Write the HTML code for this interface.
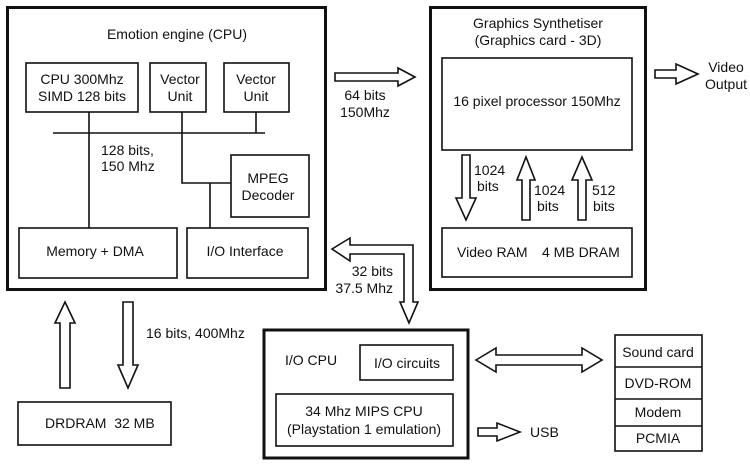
<!DOCTYPE html>
<html><head><meta charset="utf-8"><style>
html,body{margin:0;padding:0;background:#fff;}
svg{display:block;}
text{font-family:"Liberation Sans",sans-serif;font-size:14px;fill:#111;}
</style></head><body>
<svg width="750" height="465" viewBox="0 0 750 465" xmlns="http://www.w3.org/2000/svg">
<g fill="none" stroke="#111">
<rect x="7.5" y="7.5" width="318" height="282" stroke-width="3"/>
<g stroke-width="1.6">
<rect x="26" y="63" width="112" height="49"/>
<rect x="150" y="63" width="56" height="49"/>
<rect x="224" y="63" width="65" height="49"/>
<rect x="231" y="155" width="78" height="62"/>
<rect x="19" y="228" width="158" height="50"/>
<rect x="187" y="228" width="121" height="50"/>
<path d="M53 133H265M89 112V228M182 112V183H231M210 183V228M256 112V133"/>
</g>
<rect x="430.5" y="7.5" width="215" height="282" stroke-width="3"/>
<g stroke-width="1.6">
<rect x="442" y="58" width="190" height="92"/>
<rect x="442" y="228" width="190" height="49"/>
<polygon points="335,73 398,73 398,68 415,77 398,86 398,81 335,81"/>
<polygon points="655,70 676,70 676,64 698,74 676,84 676,78 655,78"/>
<polygon points="462,155 470,155 470,198 476,198 466,220 456,198 462,198"/>
<polygon points="522,220 530,220 530,180 535,180 526,157 517,180 522,180"/>
<polygon points="578,220 586,220 586,180 592,180 582,157 572,180 578,180"/>
<polygon points="60,388 70,388 70,323 75,323 65,302 55,323 60,323"/>
<polygon points="123,302 133,302 133,365 138,365 128,388 118,365 123,365"/>
<polygon points="332,249 350,238 350,245 413,245 413,302 418,302 409,323 400,302 404,302 404,254 350,254 350,261"/>
<polygon points="476,360 496,348 496,355 582,355 582,348 602,360 582,372 582,365 496,365 496,372"/>
<polygon points="478,428 497,428 497,423 520,432 497,441 497,436 478,436"/>
<rect x="18" y="402" width="153" height="43"/>
<rect x="360" y="345" width="93" height="35"/>
<rect x="276" y="394" width="177" height="52"/>
<rect x="615" y="335" width="87" height="116"/>
<path d="M615 367H702M615 399H702M615 426H702"/>
</g>
<rect x="264" y="330" width="204" height="128" stroke-width="3"/>
</g>
<text x="177" y="39" text-anchor="middle">Emotion engine (CPU)</text>
<text x="82" y="84" text-anchor="middle">CPU 300Mhz</text>
<text x="82" y="101" text-anchor="middle">SIMD 128 bits</text>
<text x="180" y="84" text-anchor="middle">Vector</text>
<text x="180" y="101" text-anchor="middle">Unit</text>
<text x="256" y="84" text-anchor="middle">Vector</text>
<text x="256" y="101" text-anchor="middle">Unit</text>
<text x="101" y="155">128 bits,</text>
<text x="101" y="171">150 Mhz</text>
<text x="268" y="183" text-anchor="middle">MPEG</text>
<text x="268" y="200" text-anchor="middle">Decoder</text>
<text x="95" y="256" text-anchor="middle">Memory + DMA</text>
<text x="245" y="256" text-anchor="middle">I/O Interface</text>
<text x="365" y="100" text-anchor="middle">64 bits</text>
<text x="365" y="117" text-anchor="middle">150Mhz</text>
<text x="538" y="28" text-anchor="middle">Graphics Synthetiser</text>
<text x="538" y="45" text-anchor="middle">(Graphics card - 3D)</text>
<text x="537" y="106" text-anchor="middle">16 pixel processor 150Mhz</text>
<text x="474" y="175">1024</text>
<text x="477" y="191">bits</text>
<text x="534" y="195">1024</text>
<text x="537" y="211">bits</text>
<text x="592" y="195">512</text>
<text x="593" y="211">bits</text>
<text x="457" y="257">Video RAM</text>
<text x="542" y="257">4 MB DRAM</text>
<text x="726" y="72" text-anchor="middle">Video</text>
<text x="726" y="89" text-anchor="middle">Output</text>
<text x="393" y="276" text-anchor="end">32 bits</text>
<text x="393" y="293" text-anchor="end">37.5 Mhz</text>
<text x="146" y="338">16 bits, 400Mhz</text>
<text x="45" y="428">DRDRAM&#160; 32 MB</text>
<text x="285" y="365">I/O CPU</text>
<text x="407" y="368" text-anchor="middle">I/O circuits</text>
<text x="364" y="416" text-anchor="middle">34 Mhz MIPS CPU</text>
<text x="364" y="434" text-anchor="middle">(Playstation 1 emulation)</text>
<text x="530" y="437">USB</text>
<text x="658" y="357" text-anchor="middle">Sound card</text>
<text x="658" y="388" text-anchor="middle">DVD-ROM</text>
<text x="658" y="417" text-anchor="middle">Modem</text>
<text x="658" y="443" text-anchor="middle">PCMIA</text>
</svg>
</body></html>
